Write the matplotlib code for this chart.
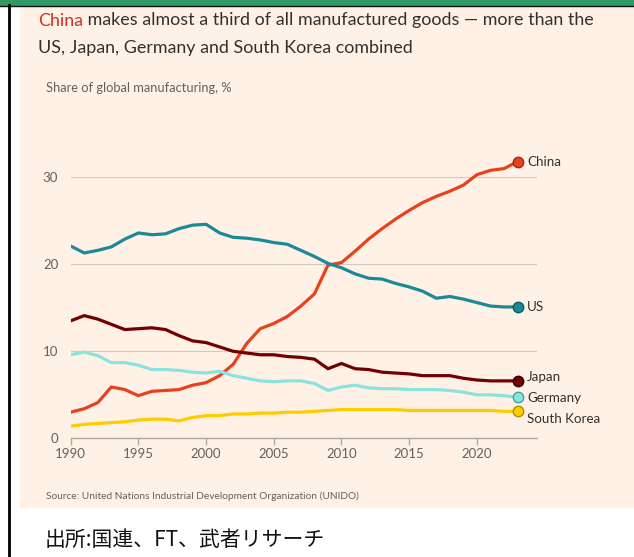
import matplotlib
matplotlib.use("Agg")
import matplotlib.pyplot as plt
from matplotlib.patches import Rectangle
from matplotlib.lines import Line2D

plt.rcParams['font.family'] = ['Lato', 'DejaVu Sans']

# data (share of global manufacturing, %)
years = list(range(1990, 2024))
china = [3.0, 3.4, 4.1, 5.9, 5.6, 4.9, 5.4, 5.5, 5.6, 6.1, 6.4, 7.2, 8.5, 10.9, 12.6,
         13.2, 14.0, 15.2, 16.6, 19.9, 20.2, 21.5, 22.9, 24.1, 25.2, 26.2, 27.1, 27.8,
         28.4, 29.1, 30.3, 30.8, 31.0, 31.8]
us = [22.1, 21.3, 21.6, 22.0, 22.9, 23.6, 23.4, 23.5, 24.1, 24.5, 24.6, 23.6, 23.1, 23.0,
      22.8, 22.5, 22.3, 21.6, 20.9, 20.1, 19.6, 18.9, 18.4, 18.3, 17.8, 17.4, 16.9, 16.1,
      16.3, 16.0, 15.6, 15.2, 15.1, 15.1]
japan = [13.5, 14.1, 13.7, 13.1, 12.5, 12.6, 12.7, 12.5, 11.8, 11.2, 11.0, 10.5, 10.0,
         9.8, 9.6, 9.6, 9.4, 9.3, 9.1, 8.0, 8.6, 8.0, 7.9, 7.6, 7.5, 7.4, 7.2, 7.2, 7.2,
         6.9, 6.7, 6.6, 6.6, 6.6]
germany = [9.6, 9.9, 9.5, 8.7, 8.7, 8.4, 7.9, 7.9, 7.8, 7.6, 7.5, 7.7, 7.2, 6.9, 6.6,
           6.5, 6.6, 6.6, 6.3, 5.5, 5.9, 6.1, 5.8, 5.7, 5.7, 5.6, 5.6, 5.6, 5.5, 5.3,
           5.0, 5.0, 4.9, 4.7]
korea = [1.4, 1.6, 1.7, 1.8, 1.9, 2.1, 2.2, 2.2, 2.0, 2.4, 2.6, 2.6, 2.8, 2.8, 2.9, 2.9,
         3.0, 3.0, 3.1, 3.2, 3.3, 3.3, 3.3, 3.3, 3.3, 3.2, 3.2, 3.2, 3.2, 3.2, 3.2, 3.2,
         3.1, 3.1]

names = ["China", "US", "Japan", "Germany", "South Korea"]
colors = ["#e8421d", "#1b8a96", "#730000", "#8ae4de", "#ffcc00"]
edges = ["#9a2a12", "#0f5a62", "#3a0000", "#3aa8a0", "#b08c00"]
label_y = [31.8, 15.1, 7.0, 4.6, 2.2]

W, H = 634, 557
fig = plt.figure(figsize=(W / 100, H / 100), dpi=100)
fig.patch.set_facecolor("white")

# page furniture
fig.add_artist(Rectangle((20 / W, 1 - 507 / H), 613 / W, 501 / H,
                         transform=fig.transFigure, color="#fff1e5", zorder=0))
fig.add_artist(Rectangle((0, 1 - 5 / H), 1, 5 / H, transform=fig.transFigure,
                         color="#2f9a66", zorder=0))
fig.add_artist(Line2D([0, 1], [1 - 5.5 / H] * 2, transform=fig.transFigure,
                      color="#111111", lw=1))
fig.add_artist(Line2D([8.5 / W] * 2, [0, 1 - 5 / H], transform=fig.transFigure,
                      color="#000000", lw=2))

x0, x1 = 70.7, 537
y0, ytop = 438.3, 150
ax = fig.add_axes([x0 / W, 1 - y0 / H, (x1 - x0) / W, (y0 - ytop) / H])
ax.set_facecolor("none")
ax.set_xlim(1990, 1990 + (x1 - x0) / 13.54)
ax.set_ylim(0, (y0 - ytop) / 8.7)

for s in ["top", "right", "left"]:
    ax.spines[s].set_visible(False)
ax.spines["bottom"].set_color("#b3a89f")
ax.spines["bottom"].set_linewidth(1)

ax.set_yticks([0, 10, 20, 30])
ax.set_xticks([1990, 1995, 2000, 2005, 2010, 2015, 2020])
ax.tick_params(axis="y", length=0, pad=9, labelsize=9.5, labelcolor="#66605c")
ax.tick_params(axis="x", length=5, width=1, color="#b3a89f", pad=2,
               labelsize=9.5, labelcolor="#66605c")
ax.grid(axis="y", color="#d4c9be", lw=0.8)
ax.set_axisbelow(True)

series = [china, us, japan, germany, korea]
order = [4, 3, 2, 1, 0]
for i in order:
    ax.plot(years, series[i], color=colors[i], lw=2.3, solid_capstyle="round",
            solid_joinstyle="round", zorder=3 + i)
    ax.plot(years[-1], series[i][-1], "o", ms=7.5, mfc=colors[i], mec=edges[i],
            mew=1, clip_on=False, zorder=10 + i)
    ax.annotate(names[i], (years[-1], label_y[i]), xytext=(7, 0),
                textcoords="offset points", va="center", ha="left",
                fontsize=9.6, color="#33302e", annotation_clip=False)

# title
t1 = fig.text(38 / W, 1 - 12.5 / H, "China", color="#cc3322", fontsize=12.9,
              va="top", ha="left")
fig.canvas.draw()
bb = t1.get_window_extent()
fig.text(bb.x1 / (W), 1 - 12.5 / H, " makes almost a third of all manufactured goods \u2014 more than the",
         color="#33302e", fontsize=12.9, va="top", ha="left")
fig.text(38 / W, 1 - 40 / H, "US, Japan, Germany and South Korea combined",
         color="#33302e", fontsize=12.9, va="top", ha="left")
fig.text(46 / W, 1 - 82 / H, "Share of global manufacturing, %", color="#66605c",
         fontsize=9.3, va="top", ha="left")
fig.text(46 / W, 1 - 491 / H,
         "Source: United Nations Industrial Development Organization (UNIDO)",
         color="#66605c", fontsize=7.3, va="top", ha="left")
fig.text(45 / W, 1 - 529 / H, "出所:国連、FT、武者リサーチ", color="#111111",
         fontsize=15, va="top", ha="left",
         family=["Noto Sans CJK JP", "DejaVu Sans"])

fig.savefig("out.png", dpi=100, facecolor="white")
